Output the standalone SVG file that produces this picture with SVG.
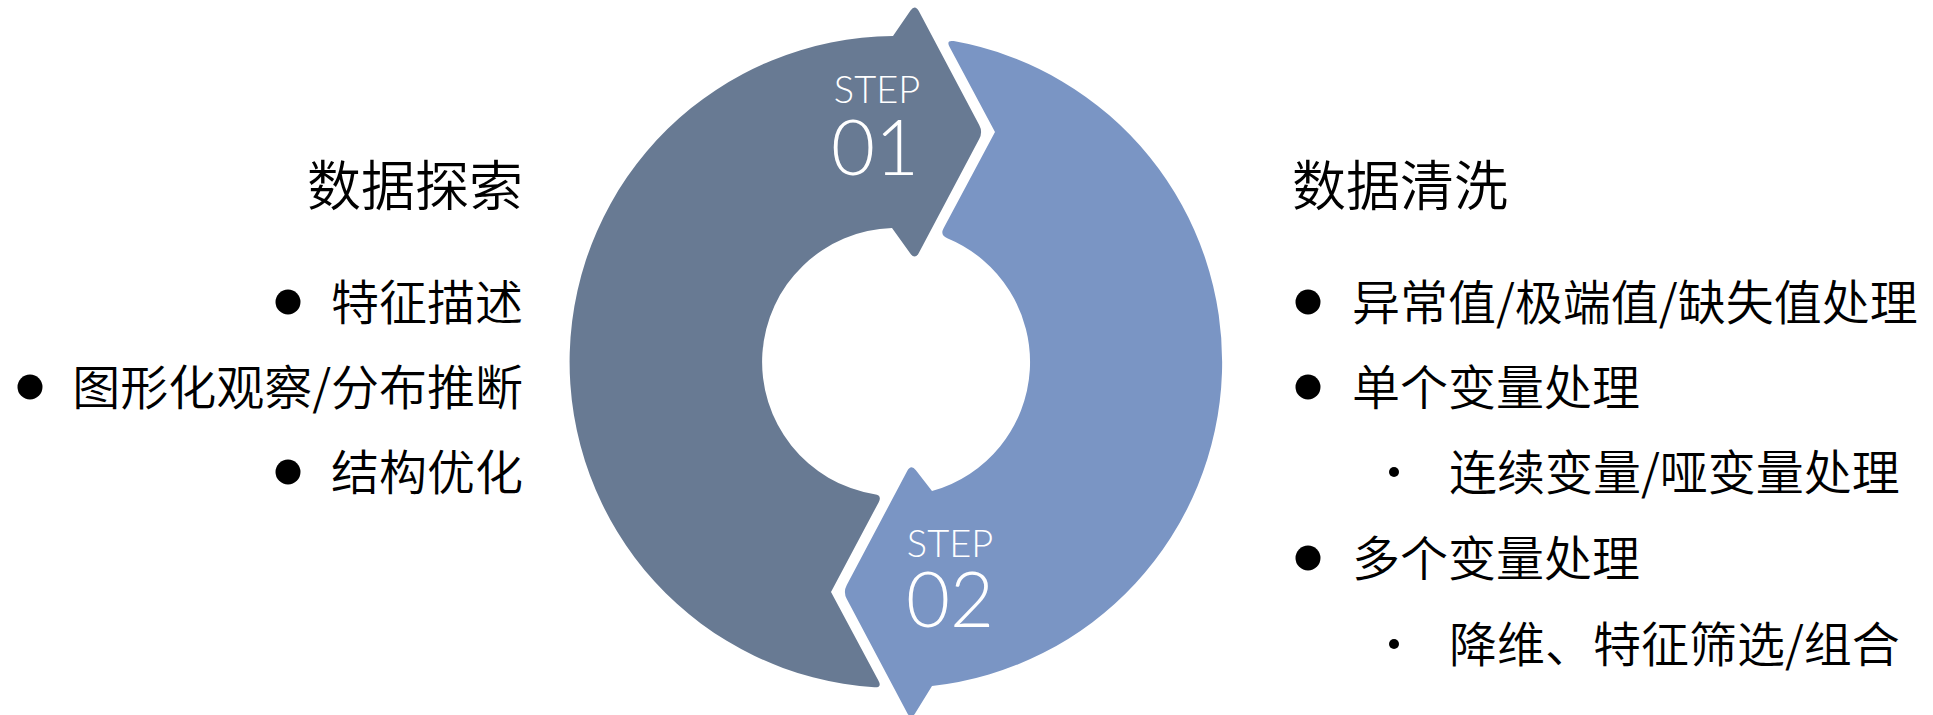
<svg xmlns="http://www.w3.org/2000/svg" width="1933" height="715" viewBox="0 0 1933 715">
  <style>
    .cjk { font-family: "Noto Sans CJK SC", "Noto Sans", sans-serif; font-weight: 350; fill: #000; }
    .title { font-size: 54px; }
    .item { font-size: 48px; }
    .step { font-family: Lato, "Open Sans", sans-serif; font-weight: 300; fill: #fff; text-anchor: middle; }
    .step-label { font-size: 38px; }
    .step-num { font-size: 76px; }
    .dot { fill: #000; }
  </style>

  <!-- Ring: two arrow-shaped halves around a hole at (896,362) -->
  <g id="step-01">
    <path fill="#687A93" d="M 893,36 A 326 326 0 0 0 874.4,687.3 Q 882.3,687.7 878.5,680.7 L 831,592 L 878.6,502.4 Q 882.4,495.3 874.6,494.3 A 134 134 0 0 1 892,228.1 L 910.3,253.5 Q 915,260 918.8,252.9 L 979.2,139.1 Q 983,132 979.2,124.9 L 918.8,11.1 Q 915,4 910.5,10.6 Z"/>
    <text class="step"><tspan class="step-label" x="877" y="103">STEP</tspan><tspan class="step-num" x="875" y="175">01</tspan></text>
  </g>

  <g id="step-02">
    <path fill="#7A95C4" d="M 949.6,46.9 Q 945.8,39.8 953.7,41.1 A 326 326 0 0 1 932,686 L 915.2,713.2 Q 911,720 907.2,712.9 L 846.8,599.1 Q 843,592 846.8,584.9 L 907.2,471.1 Q 911,464 915.9,470.3 L 932,491.1 A 134 134 0 0 0 947.3,238.2 Q 939.8,235.3 943.6,228.2 L 995,132 Z"/>
    <text class="step"><tspan class="step-label" x="950" y="557">STEP</tspan><tspan class="step-num" x="950" y="627">02</tspan></text>
  </g>

  <!-- Left column: data exploration -->
  <g id="exploration" text-anchor="end">
    <text class="cjk title" x="523" y="206">数据探索</text>
    <circle class="dot" cx="288" cy="302" r="12.5"/>
    <text class="cjk item" x="523" y="320">特征描述</text>
    <circle class="dot" cx="30" cy="387" r="12.5"/>
    <text class="cjk item" x="523" y="405">图形化观察/分布推断</text>
    <circle class="dot" cx="288" cy="472" r="12.5"/>
    <text class="cjk item" x="523" y="490">结构优化</text>
  </g>

  <!-- Right column: data cleaning -->
  <g id="cleaning">
    <text class="cjk title" x="1292" y="206">数据清洗</text>
    <circle class="dot" cx="1308" cy="302" r="12.5"/>
    <text class="cjk item" x="1352" y="320">异常值/极端值/缺失值处理</text>
    <circle class="dot" cx="1308" cy="387" r="12.5"/>
    <text class="cjk item" x="1352" y="405">单个变量处理</text>
    <circle class="dot" cx="1394" cy="472" r="5"/>
    <text class="cjk item" x="1449" y="490">连续变量/哑变量处理</text>
    <circle class="dot" cx="1308" cy="558" r="12.5"/>
    <text class="cjk item" x="1352" y="576">多个变量处理</text>
    <circle class="dot" cx="1394" cy="644" r="5"/>
    <text class="cjk item" x="1449" y="662">降维、特征筛选/组合</text>
  </g>
</svg>
